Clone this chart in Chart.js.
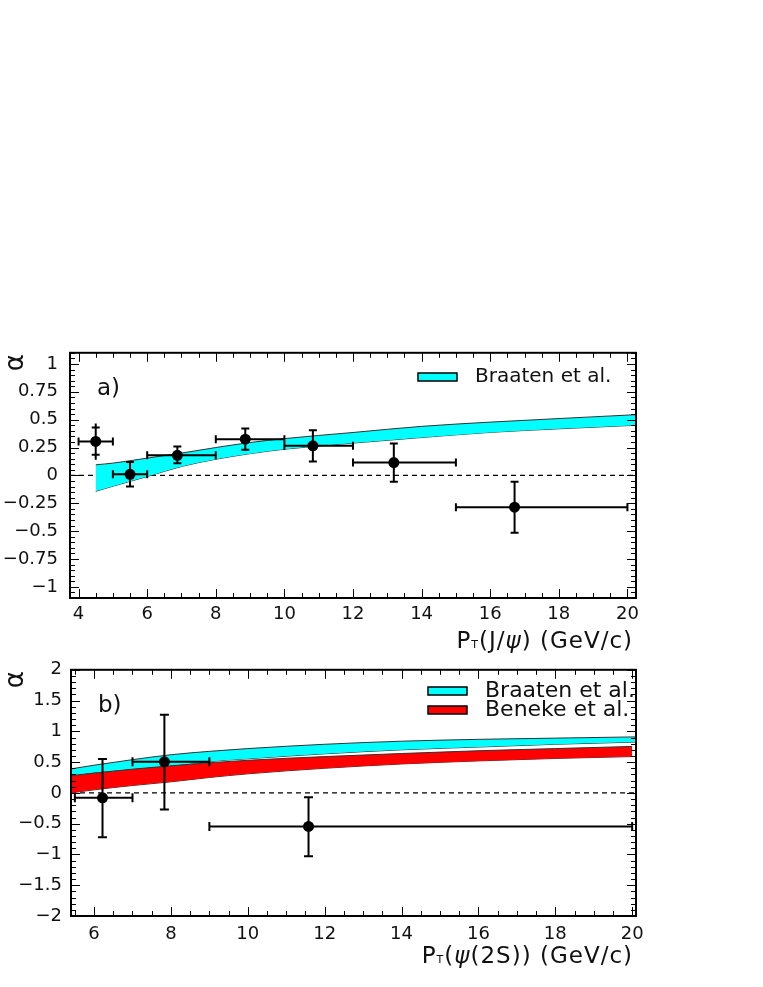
<!DOCTYPE html>
<html>
<head>
<meta charset="utf-8">
<script src="https://cdn.jsdelivr.net/npm/chart.js@4"></script>
<style>
  body { margin: 0; background: #fff; width: 763px; height: 987px; position: relative; overflow: hidden; }
  canvas { position: absolute; left: 0; }
  #chartA { top: 330px; }
  #chartB { top: 650px; }
</style>
</head>
<body>
<canvas id="chartA" width="763" height="330"></canvas>
<canvas id="chartB" width="763" height="330"></canvas>
<script>
// ---- panel a) : J/psi polarization
const aPt = [4.5, 5.5, 6.88, 8.86, 10.83, 13.19, 16.71];
const aPtLo = [4, 5, 6, 8, 10, 12, 15];
const aPtHi = [5, 6, 8, 10, 12, 15, 20];
const aAlpha = [0.305, 0.01, 0.18, 0.325, 0.265, 0.115, -0.285];
const aAlphaLo = [0.14, -0.1, 0.11, 0.23, 0.125, -0.056, -0.515];
const aAlphaHi = [0.465, 0.12, 0.26, 0.42, 0.405, 0.286, -0.056];
// inner (stat. only) marks, only the first point shows them
const aStatLo = [0.186, null, null, null, null, null, null];
const aStatHi = [0.43, null, null, null, null, null, null];

const aBandPt = [4.5, 5, 6, 7, 8, 9, 10, 12, 14, 16, 18, 20.25];
const aBraatenHi = [0.095, 0.11, 0.155, 0.2, 0.25, 0.295, 0.33, 0.385, 0.44, 0.478, 0.51, 0.545];
const aBraatenLo = [-0.143, -0.097, -0.01, 0.08, 0.145, 0.195, 0.235, 0.29, 0.34, 0.386, 0.418, 0.45];

const aXTicks = [4, 6, 8, 10, 12, 14, 16, 18, 20];
const aYTicks = [-1, -0.75, -0.5, -0.25, 0, 0.25, 0.5, 0.75, 1];

// ---- panel b) : psi(2S) polarization
const bPt = [6.22, 7.83, 11.58];
const bPtLo = [5.5, 7, 9];
const bPtHi = [7, 9, 20];
const bAlpha = [-0.08, 0.505, -0.545];
const bAlphaLo = [-0.72, -0.27, -1.03];
const bAlphaHi = [0.55, 1.27, -0.07];

const bBraatenPt = [5.4, 6, 7, 8, 9, 10, 12, 14, 16, 18, 20.1];
const bBraatenHi = [0.39, 0.45, 0.54, 0.62, 0.675, 0.72, 0.79, 0.84, 0.87, 0.89, 0.91];
const bBraatenLo = [0.28, 0.33, 0.39, 0.44, 0.51, 0.555, 0.635, 0.7, 0.745, 0.79, 0.826];
const bBenekePt = [5.4, 6, 7, 8, 9, 10, 12, 14, 16, 18, 20];
const bBenekeHi = [0.28, 0.32, 0.385, 0.44, 0.49, 0.53, 0.59, 0.64, 0.685, 0.72, 0.755];
const bBenekeLo = [0, 0.05, 0.12, 0.18, 0.25, 0.31, 0.4, 0.47, 0.52, 0.56, 0.59];

const bXTicks = [6, 8, 10, 12, 14, 16, 18, 20];
const bYTicks = [-2, -1.5, -1, -0.5, 0, 0.5, 1, 1.5, 2];

const FONT = "'DejaVu Sans', sans-serif";
Chart.defaults.font.family = FONT;
Chart.defaults.color = "#111";

const pts = (xs, ys) => xs.map((x, i) => ({ x, y: ys[i] }));
const fmt = v => (v < 0 ? "\u2212" : "") + Math.abs(v);

// ROOT-like frame: box, inward ticks on all sides, error bars, texts, legend
const rootFrame = {
  id: "rootFrame",
  beforeDatasetDraw(chart, args, o) {
    if (args.index !== 0) return; // error bars go right under the markers
    const ctx = chart.ctx, sx = chart.scales.x, sy = chart.scales.y, e = o.err;
    ctx.save();
    ctx.strokeStyle = "#000";
    ctx.lineWidth = 2;
    ctx.beginPath();
    e.x.forEach((v, i) => {
      const px = sx.getPixelForValue(v), py = sy.getPixelForValue(e.y[i]);
      const xl = sx.getPixelForValue(e.xLo[i]), xh = sx.getPixelForValue(e.xHi[i]);
      const yl = sy.getPixelForValue(e.yLo[i]), yh = sy.getPixelForValue(e.yHi[i]);
      ctx.moveTo(xl, py); ctx.lineTo(xh, py);
      ctx.moveTo(xl, py - o.capH); ctx.lineTo(xl, py + o.capH);
      ctx.moveTo(xh, py - o.capH); ctx.lineTo(xh, py + o.capH);
      ctx.moveTo(px, yl); ctx.lineTo(px, yh);
      const sl = e.sLo ? e.sLo[i] : null, sh = e.sHi ? e.sHi[i] : null;
      const cl = sl != null ? sy.getPixelForValue(sl) : yl;
      const ch = sh != null ? sy.getPixelForValue(sh) : yh;
      ctx.moveTo(px - o.capW, cl); ctx.lineTo(px + o.capW, cl);
      ctx.moveTo(px - o.capW, ch); ctx.lineTo(px + o.capW, ch);
    });
    ctx.stroke();
    ctx.restore();
  },
  afterDraw(chart, args, o) {
    const ctx = chart.ctx, a = chart.chartArea, sx = chart.scales.x, sy = chart.scales.y;
    ctx.save();
    // ticks
    ctx.strokeStyle = "#000";
    ctx.lineWidth = 1;
    ctx.beginPath();
    const steps = (min, max, st) => {
      const out = [];
      for (let k = Math.ceil(min / st - 1e-9); k * st <= max + 1e-9; k++) out.push(+(k * st).toFixed(6));
      return out;
    };
    const major = 9, minor = 5;
    steps(sx.min, sx.max, o.xMinor).forEach(v => {
      const len = o.xMajor.includes(v) ? major : minor;
      const p = Math.round(sx.getPixelForValue(v)) + 0.5;
      ctx.moveTo(p, a.bottom); ctx.lineTo(p, a.bottom - len);
      ctx.moveTo(p, a.top); ctx.lineTo(p, a.top + len);
    });
    steps(sy.min, sy.max, o.yMinor).forEach(v => {
      const len = o.yMajor.includes(v) ? major : minor;
      const p = Math.round(sy.getPixelForValue(v)) + 0.5;
      ctx.moveTo(a.left, p); ctx.lineTo(a.left + len, p);
      ctx.moveTo(a.right, p); ctx.lineTo(a.right - len, p);
    });
    ctx.stroke();
    // frame
    ctx.lineWidth = 2;
    ctx.strokeRect(a.left, a.top, a.right - a.left, a.bottom - a.top);

    ctx.fillStyle = "#111";
    // panel label
    ctx.font = "23px " + FONT;
    ctx.textBaseline = "alphabetic";
    ctx.textAlign = "left";
    ctx.fillText(o.panel, a.left + 27, a.top + 42);
    // y title (rotated alpha)
    ctx.save();
    ctx.font = "26px " + FONT;
    ctx.translate(23, a.top + 10);
    ctx.rotate(-Math.PI / 2);
    ctx.textAlign = "center";
    ctx.fillText("\u03b1", 0, 0);
    ctx.restore();
    // x title with subscript
    ctx.letterSpacing = "1px";
    let w = 0;
    o.title.forEach(p => { ctx.font = p.font + FONT; w += ctx.measureText(p.t).width; });
    let x = a.right - 3 - w;
    const base = a.bottom + o.titleDy;
    o.title.forEach(p => {
      ctx.font = p.font + FONT;
      ctx.fillText(p.t, x, base + (p.dy || 0));
      x += ctx.measureText(p.t).width;
    });
    ctx.letterSpacing = "0px";
    // legend
    o.legend.forEach(l => {
      ctx.fillStyle = l.color;
      ctx.fillRect(l.x, l.y - 4, 39, 8);
      ctx.strokeStyle = "#000";
      ctx.lineWidth = 1.5;
      ctx.strokeRect(l.x, l.y - 4, 39, 8);
      ctx.fillStyle = "#111";
      ctx.font = l.font + FONT;
      ctx.textBaseline = "middle";
      ctx.fillText(l.label, l.x + 18 + 39, l.y);
      ctx.textBaseline = "alphabetic";
    });
    ctx.restore();
  }
};
Chart.register(rootFrame);

function band(label, xs, ys, color, fill) {
  return {
    label, data: pts(xs, ys), showLine: true, pointRadius: 0,
    borderColor: "#333", borderWidth: 1, backgroundColor: color,
    cubicInterpolationMode: "monotone", fill
  };
}

function panel(id, p) {
  return new Chart(document.getElementById(id), {
    type: "scatter",
    data: { datasets: p.datasets },
    options: {
      responsive: false,
      animation: false,
      layout: { padding: { top: p.top, right: 127, bottom: 0, left: 0 } },
      plugins: {
        legend: { display: false },
        tooltip: { enabled: false },
        rootFrame: p.frame
      },
      scales: {
        x: {
          min: p.xMin, max: p.xMax,
          grid: { display: false, drawTicks: false }, border: { display: false },
          afterBuildTicks: s => { s.ticks = p.xTicks.map(v => ({ value: v })); },
          afterFit: s => { s.height = p.xHeight; },
          ticks: { font: { size: 18 }, padding: p.xPad, maxRotation: 0, autoSkip: false, callback: fmt }
        },
        y: {
          min: p.yMin, max: p.yMax,
          grid: { display: false, drawTicks: false }, border: { display: false },
          afterBuildTicks: s => { s.ticks = p.yTicks.map(v => ({ value: v })); },
          afterFit: s => { s.width = p.yWidth; },
          ticks: { font: { size: 18 }, padding: p.yPad, autoSkip: false, callback: fmt }
        }
      }
    }
  });
}

const marker = (xs, ys) => ({
  label: "data", data: pts(xs, ys), pointRadius: 5.5,
  backgroundColor: "#000", borderColor: "#000", borderWidth: 0
});
const zeroLine = (x0, x1) => ({
  label: "zero", data: [{ x: x0, y: 0 }, { x: x1, y: 0 }], showLine: true, pointRadius: 0,
  borderColor: "#000", borderWidth: 1.2, borderDash: [5, 4], fill: false
});

panel("chartA", {
  top: 21, xHeight: 62, yWidth: 70, yPad: 12, xPad: 6,
  xMin: 3.75, xMax: 20.25, yMin: -1.1, yMax: 1.1,
  xTicks: aXTicks, yTicks: aYTicks,
  datasets: [
    marker(aPt, aAlpha),
    band("Braaten et al.", aBandPt, aBraatenHi, "#00ffff", "+1"),
    band("", aBandPt, aBraatenLo, "#00ffff", false),
    zeroLine(3.75, 20.25)
  ],
  frame: {
    err: { x: aPt, y: aAlpha, xLo: aPtLo, xHi: aPtHi, yLo: aAlphaLo, yHi: aAlphaHi, sLo: aStatLo, sHi: aStatHi },
    capW: 4, capH: 4,
    xMajor: aXTicks, xMinor: 0.5, yMajor: aYTicks, yMinor: 0.05,
    panel: "a)",
    title: [
      { t: "P", font: "23px " }, { t: "T", font: "11px ", dy: 0 },
      { t: "(J/", font: "23px " }, { t: "\u03c8", font: "italic 23px " },
      { t: ") (GeV/c)", font: "23px " }
    ],
    titleDy: 50,
    legend: [{ label: "Braaten et al.", color: "#00ffff", x: 418, y: 47, font: "20px " }]
  }
});

panel("chartB", {
  top: 19, xHeight: 64, yWidth: 71, yPad: 9, xPad: 8,
  xMin: 5.4, xMax: 20.1, yMin: -2, yMax: 2,
  xTicks: bXTicks, yTicks: bYTicks,
  datasets: [
    marker(bPt, bAlpha),
    band("Beneke et al.", bBenekePt, bBenekeHi, "#ff0000", "+1"),
    band("", bBenekePt, bBenekeLo, "#ff0000", false),
    band("Braaten et al.", bBraatenPt, bBraatenHi, "#00ffff", "+1"),
    band("", bBraatenPt, bBraatenLo, "#00ffff", false),
    zeroLine(5.4, 20.1)
  ],
  frame: {
    err: { x: bPt, y: bAlpha, xLo: bPtLo, xHi: bPtHi, yLo: bAlphaLo, yHi: bAlphaHi },
    capW: 4.5, capH: 4.5,
    xMajor: bXTicks, xMinor: 0.5, yMajor: bYTicks, yMinor: 0.1,
    panel: "b)",
    title: [
      { t: "P", font: "23px " }, { t: "T", font: "11px ", dy: 0 },
      { t: "(", font: "23px " }, { t: "\u03c8", font: "italic 23px " },
      { t: "(2S)) (GeV/c)", font: "23px " }
    ],
    titleDy: 47,
    legend: [
      { label: "Braaten et al.", color: "#00ffff", x: 428, y: 41, font: "22px " },
      { label: "Beneke et al.", color: "#ff0000", x: 428, y: 60, font: "22px " }
    ]
  }
});
</script>
</body>
</html>
